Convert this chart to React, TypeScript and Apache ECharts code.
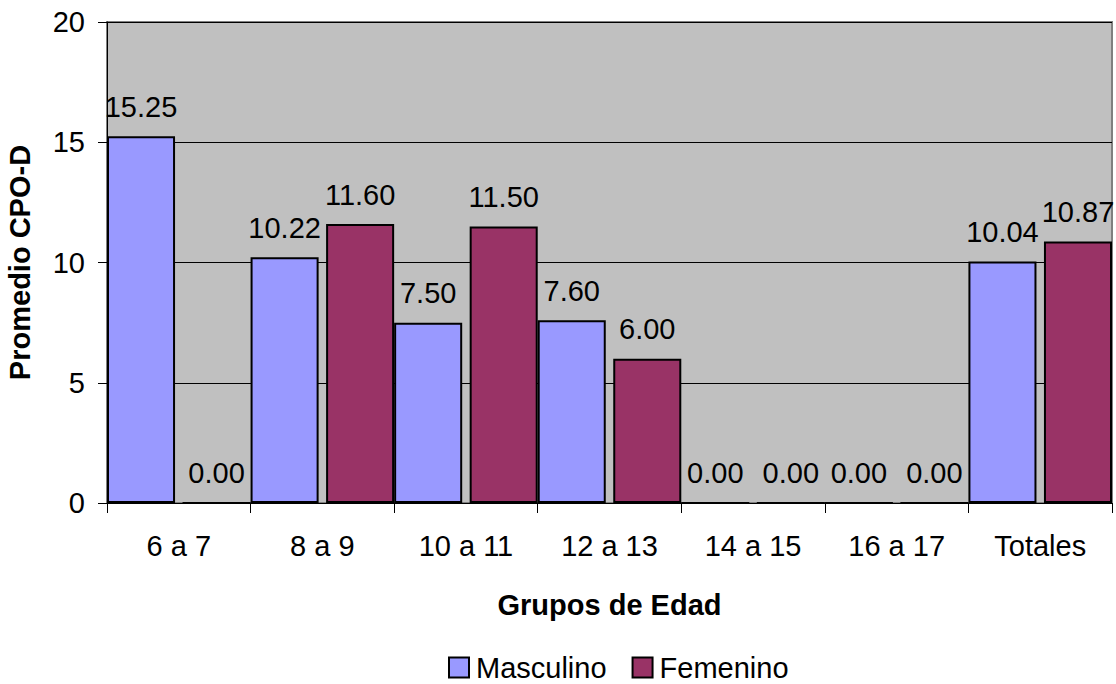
import React, { useEffect, useRef } from "react";
import * as echarts from "echarts";

const categories = ["6 a 7", "8 a 9", "10 a 11", "12 a 13", "14 a 15", "16 a 17", "Totales"];
const masculino = [15.25, 10.22, 7.5, 7.6, 0, 0, 10.04];
const femenino = [0, 11.6, 11.5, 6.0, 0, 0, 10.87];
const yTicks = [0, 5, 10, 15, 20];

const FONT = "'Liberation Sans', Arial, sans-serif";
const FS = 29;

export default function App() {
  const ref = useRef<HTMLDivElement>(null);

  useEffect(() => {
    if (!ref.current) return;
    const chart = echarts.init(ref.current, undefined, { renderer: "svg" });
    const label = {
      show: true,
      position: "top" as const,
      distance: 15,
      color: "#000",
      fontSize: FS,
      fontFamily: FONT,
      formatter: (p: any) => Number(p.value).toFixed(2),
    };
    chart.setOption({
      animation: false,
      textStyle: { fontFamily: FONT },
      grid: {
        left: 107,
        right: 4,
        top: 22,
        bottom: 181,
        outerBoundsMode: "none",
        containLabel: false,
        show: true,
        backgroundColor: "#C0C0C0",
        borderColor: "#808080",
        borderWidth: 2,
      },
      legend: {
        left: 448,
        top: 653,
        padding: 0,
        itemWidth: 20,
        itemHeight: 20,
        itemGap: 25,
        icon: "rect",
        textStyle: {
          fontSize: FS,
          lineHeight: 29,
          color: "#000",
          fontFamily: FONT,
          padding: [0, 0, 0, 2],
        },
        data: ["Masculino", "Femenino"],
      },
      xAxis: {
        type: "category",
        data: categories,
        name: "Grupos de Edad",
        nameLocation: "middle",
        nameGap: 87,
        nameTextStyle: { fontSize: FS, fontWeight: "bold", color: "#000", fontFamily: FONT },
        axisLine: { lineStyle: { color: "#000", width: 1 } },
        axisTick: { show: true, length: 10, lineStyle: { color: "#000" } },
        axisLabel: { fontSize: FS, color: "#000", margin: 28, fontFamily: FONT },
      },
      yAxis: {
        type: "value",
        min: 0,
        max: yTicks[yTicks.length - 1],
        interval: yTicks[1] - yTicks[0],
        name: "Promedio CPO-D",
        nameLocation: "middle",
        nameGap: 73,
        nameTextStyle: { fontSize: FS, fontWeight: "bold", color: "#000", fontFamily: FONT },
        axisLine: { show: true, lineStyle: { color: "#000", width: 1 } },
        axisTick: { show: true, length: 9, lineStyle: { color: "#000" } },
        axisLabel: { fontSize: FS, color: "#000", margin: 22, fontFamily: FONT },
        splitLine: { show: true, lineStyle: { color: "#000", width: 1 } },
      },
      series: [
        {
          name: "Masculino",
          type: "bar",
          data: masculino,
          barGap: "11%",
          barCategoryGap: "0%",
          itemStyle: { color: "#9999FF", borderColor: "#000", borderWidth: 2 },
          label,
        },
        {
          name: "Femenino",
          type: "bar",
          data: femenino,
          itemStyle: { color: "#993366", borderColor: "#000", borderWidth: 2 },
          label,
        },
      ],
    });
    return () => chart.dispose();
  }, []);

  return (
    <div
      ref={ref}
      style={{ position: "fixed", left: 0, top: 0, width: 1116, height: 684, background: "#fff" }}
    />
  );
}
